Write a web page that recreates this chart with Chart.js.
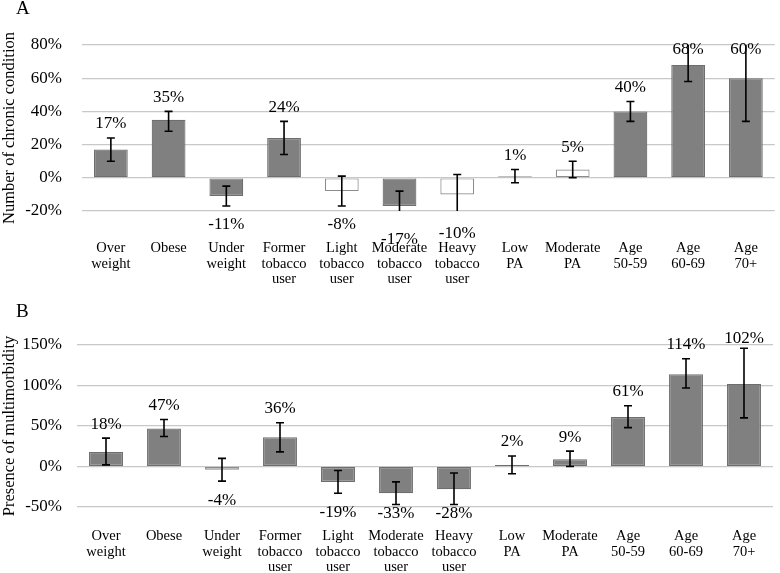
<!DOCTYPE html>
<html lang="en">
<head>
  <meta charset="UTF-8" />
  <title>Chronic condition and multimorbidity</title>
  <script src="https://cdn.jsdelivr.net/npm/chart.js"></script>
  <style>
    body { margin: 0; background: #fff; font-family: "Liberation Serif", serif; }
    #wrap { position: relative; width: 780px; height: 573px; overflow: hidden; }
    .panel { position: absolute; left: 0; line-height: 0; }
    .letter { position: absolute; left: 16px; font-size: 19px; color: #000; line-height: 1.2; }
  </style>
</head>
<body>
  <div id="wrap">
    <div class="panel" style="top:0"><canvas id="chartA" width="780" height="294"></canvas></div>
    <div class="panel" style="top:286px"><canvas id="chartB" width="780" height="287"></canvas></div>
    <div class="letter" style="top:-3px">A</div>
    <div class="letter" style="top:300px">B</div>
  </div>

  <script>
    const categories = [
      ["Over", "weight"], ["Obese"], ["Under", "weight"], ["Former", "tobacco", "user"],
      ["Light", "tobacco", "user"], ["Moderate", "tobacco", "user"], ["Heavy", "tobacco", "user"],
      ["Low", "PA"], ["Moderate", "PA"], ["Age", "50-59"], ["Age", "60-69"], ["Age", "70+"]
    ];

    // Panel A: number of chronic conditions (%)
    const valuesA = [17, 35, -11, 24, -8, -17, -10, 1, 5, 40, 68, 60];
    const lowA    = [10, 28, -17, 14, -17, -26, -22, -3, 0, 34, 58, 34];
    const highA   = [24, 40, -5, 34, 1, -8, 2, 5, 10, 46, 82, 86];
    const hollowA = [false, false, false, false, true, false, true, true, true, false, false, false];

    // Panel B: presence of multimorbidity (%)
    const valuesB = [18, 47, -4, 36, -19, -33, -28, 2, 9, 61, 114, 102];
    const lowB    = [2, 37, -18, 18, -33, -47, -47, -9, 0, 48, 97, 60];
    const highB   = [35, 58, 10, 54, -5, -19, -8, 13, 19, 75, 133, 146];
    const hollowB = [false, false, true, false, false, false, false, false, false, false, false, false];

    const FONT = "'Liberation Serif', serif";

    // error bars (clipped to plot) + value labels
    const errorAndLabels = {
      id: 'errorAndLabels',
      afterDatasetsDraw(chart, args, opts) {
        const ctx = chart.ctx;
        const y = chart.scales.y;
        const area = chart.chartArea;
        const meta = chart.getDatasetMeta(0);
        ctx.save();
        ctx.beginPath();
        ctx.rect(area.left, area.top, area.right - area.left, area.bottom - area.top);
        ctx.clip();
        ctx.strokeStyle = '#000';
        ctx.lineWidth = 1.6;
        meta.data.forEach((bar, i) => {
          const x = bar.x;
          const yl = y.getPixelForValue(opts.low[i]);
          const yh = y.getPixelForValue(opts.high[i]);
          ctx.beginPath();
          ctx.moveTo(x, yl); ctx.lineTo(x, yh);
          ctx.moveTo(x - 4, yl); ctx.lineTo(x + 4, yl);
          ctx.moveTo(x - 4, yh); ctx.lineTo(x + 4, yh);
          ctx.stroke();
        });
        ctx.restore();

        ctx.save();
        ctx.fillStyle = '#000';
        ctx.font = "17px " + FONT;
        ctx.textAlign = 'center';
        ctx.textBaseline = 'middle';
        meta.data.forEach((bar, i) => {
          const v = opts.values[i];
          let ty;
          if (v >= 0) {
            ty = Math.max(y.getPixelForValue(opts.high[i]) - 14, area.top + opts.topGap);
          } else {
            ty = Math.min(y.getPixelForValue(opts.low[i]) + 19, area.bottom + opts.bottomGap);
          }
          ctx.fillText(v + '%', bar.x, ty);
        });
        ctx.restore();
      }
    };

    function makeChart(id, values, low, high, hollow, yMin, yMax, step, title, cfg) {
      return new Chart(document.getElementById(id), {
        type: 'bar',
        data: {
          labels: categories,
          datasets: [{
            data: values,
            backgroundColor: hollow.map(h => h ? '#ffffff' : '#808080'),
            borderColor: hollow.map(h => h ? '#8c8c8c' : '#6e6e6e'),
            borderWidth: 1.2,
            borderSkipped: false,
            barPercentage: 1,
            categoryPercentage: 0.585
          }]
        },
        options: {
          responsive: false,
          animation: false,
          layout: { padding: { top: cfg.padTop, right: cfg.padRight, left: 0, bottom: 0 } },
          plugins: {
            legend: { display: false },
            tooltip: { enabled: false },
            errorAndLabels: { values, low, high, topGap: cfg.topGap, bottomGap: cfg.bottomGap }
          },
          scales: {
            x: {
              grid: { display: false },
              border: { display: false },
              ticks: {
                color: '#000',
                font: { family: FONT, size: 14.5, lineHeight: 1.05 },
                padding: cfg.xPad,
                maxRotation: 0,
                autoSkip: false
              },
              afterFit(scale) { scale.height = cfg.xH; }
            },
            y: {
              min: yMin,
              max: yMax,
              grid: { color: '#c8c8c8', lineWidth: 1.2, drawTicks: false },
              border: { display: false },
              ticks: {
                stepSize: step,
                color: '#000',
                font: { family: FONT, size: 17 },
                padding: cfg.yPad,
                callback: v => v + '%'
              },
              title: {
                display: true,
                text: title,
                color: '#000',
                font: { family: FONT, size: 16.5 },
                padding: { top: 0, bottom: 0 }
              },
              afterFit(scale) { scale.width = cfg.leftW; }
            }
          }
        },
        plugins: [errorAndLabels]
      });
    }

    makeChart('chartA', valuesA, lowA, highA, hollowA, -20, 80, 20, 'Number of chronic condition',
      { leftW: 82, xH: 83, padTop: 45, padRight: 1, xPad: 22, yPad: 20, topGap: 5, bottomGap: 30 });
    makeChart('chartB', valuesB, lowB, highB, hollowB, -50, 150, 50, 'Presence of multimorbidity',
      { leftW: 77, xH: 66, padTop: 59, padRight: 7, xPad: 14, yPad: 15, topGap: -6, bottomGap: 7 });
  </script>
</body>
</html>
